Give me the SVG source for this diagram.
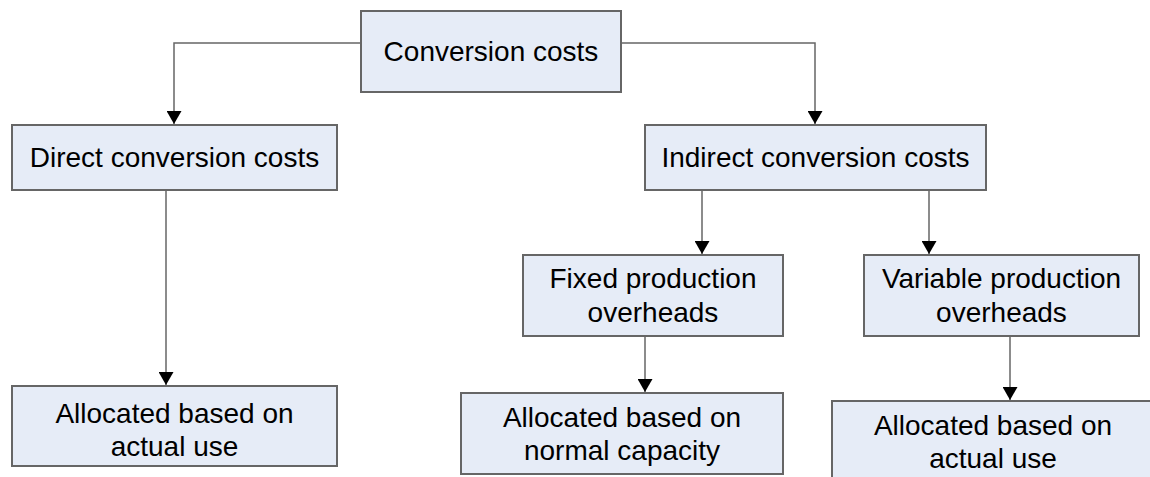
<svg xmlns="http://www.w3.org/2000/svg" width="1150" height="477" viewBox="0 0 1150 477">
<style>
.box{fill:#e6ecf7;stroke:#666666;stroke-width:2}
.t{font-family:"Liberation Sans",Arial,sans-serif;font-size:28px;fill:#000;text-anchor:middle}
.c{fill:none;stroke:#666666;stroke-width:1.5}
</style>
<defs>
<marker id="ah" viewBox="0 0 13 15" refX="13" refY="7.5" markerWidth="13" markerHeight="15" markerUnits="userSpaceOnUse" orient="auto">
<path d="M0,0 L13,7.5 L0,15 Z" fill="#000"/>
</marker>
</defs>
<g id="connectors">
<path class="c" d="M361,43 H174 V124" marker-end="url(#ah)"/>
<path class="c" d="M621,43 H815 V124" marker-end="url(#ah)"/>
<path class="c" d="M166,190 V385" marker-end="url(#ah)"/>
<path class="c" d="M702,190 V254" marker-end="url(#ah)"/>
<path class="c" d="M929,190 V254" marker-end="url(#ah)"/>
<path class="c" d="M645,336 V392" marker-end="url(#ah)"/>
<path class="c" d="M1010,336 V400" marker-end="url(#ah)"/>
</g>
<g id="conversion">
<rect class="box" x="361" y="11" width="260" height="81"/>
<text class="t" x="491" y="61">Conversion costs</text>
</g>
<g id="direct">
<rect class="box" x="12" y="125" width="325" height="65"/>
<text class="t" x="174.5" y="167">Direct conversion costs</text>
</g>
<g id="indirect">
<rect class="box" x="645" y="125" width="341" height="65"/>
<text class="t" x="815.5" y="167">Indirect conversion costs</text>
</g>
<g id="fixed">
<rect class="box" x="523" y="255" width="260" height="81"/>
<text class="t" x="653" y="288">Fixed production</text>
<text class="t" x="653" y="322">overheads</text>
</g>
<g id="variable">
<rect class="box" x="864" y="255" width="275" height="81"/>
<text class="t" x="1001.5" y="288">Variable production</text>
<text class="t" x="1001.5" y="322">overheads</text>
</g>
<g id="alloc-actual-left">
<rect class="box" x="12" y="386" width="325" height="80"/>
<text class="t" x="174.5" y="423">Allocated based on</text>
<text class="t" x="174.5" y="456">actual use</text>
</g>
<g id="alloc-normal">
<rect class="box" x="461" y="393" width="322" height="81"/>
<text class="t" x="622" y="427">Allocated based on</text>
<text class="t" x="622" y="460">normal capacity</text>
</g>
<g id="alloc-actual-right">
<rect class="box" x="832" y="401" width="322" height="90"/>
<text class="t" x="993" y="435">Allocated based on</text>
<text class="t" x="993" y="468">actual use</text>
</g>
</svg>
